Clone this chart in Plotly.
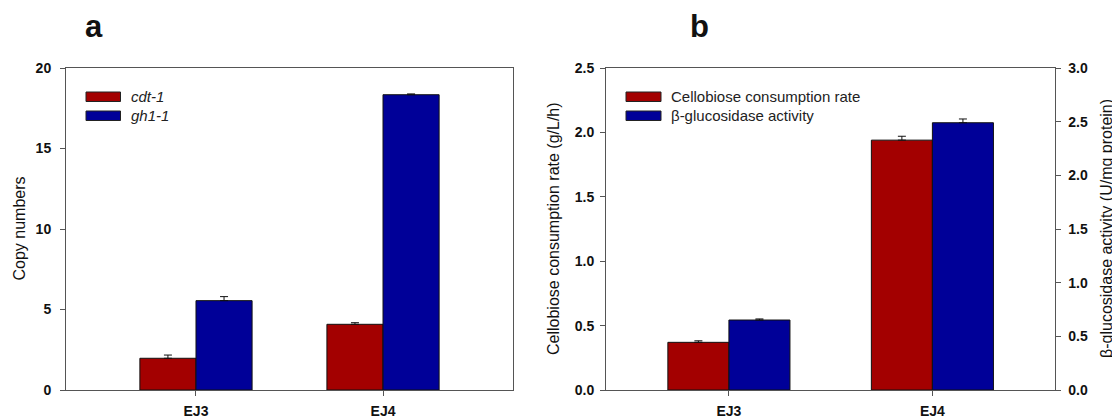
import plotly.graph_objects as go

# ---------------- data ----------------
strains = ["EJ3", "EJ4"]

# panel a: copy numbers
cdt1_copy = [1.97, 4.08]
cdt1_err = [0.2, 0.1]
gh11_copy = [5.55, 18.34]
gh11_err = [0.25, 0.05]

# panel b
cellobiose_rate = [0.37, 1.94]      # g/L/h (left axis)
cellobiose_err = [0.012, 0.03]
bglu_activity = [0.652, 2.49]       # U/mg protein (right axis)
bglu_err = [0.01, 0.035]

a_ticks = [0, 5, 10, 15, 20]
b_left_ticks = [0.0, 0.5, 1.0, 1.5, 2.0, 2.5]
b_right_ticks = [0.0, 0.5, 1.0, 1.5, 2.0, 2.5, 3.0]

RED = "#a30000"
BLUE = "#000098"
FONT = "Arial, Liberation Sans, sans-serif"
W, H = 1120, 418
OFF = 8  # page body margin


def px(x):
    return (x - OFF) / W


def py(y):
    return 1 - (y - OFF) / H


BW = 0.3


def bar(x, y, err, color, offset, xa, ya):
    return go.Bar(
        x=x, y=y, width=BW, offset=offset,
        marker=dict(color=color, line=dict(color="#111", width=1)),
        error_y=dict(type="data", symmetric=False, array=err,
                     arrayminus=[0] * len(err), color="#111",
                     thickness=1, width=4),
        xaxis=xa, yaxis=ya, showlegend=False,
    )


fig = go.Figure()
fig.add_trace(bar(strains, cdt1_copy, cdt1_err, RED, -BW, "x", "y"))
fig.add_trace(bar(strains, gh11_copy, gh11_err, BLUE, 0, "x", "y"))
fig.add_trace(bar(strains, cellobiose_rate, cellobiose_err, RED, -BW, "x2", "y2"))
fig.add_trace(bar(strains, bglu_activity, bglu_err, BLUE, 0, "x2", "y3"))

LINE = "#555"
tickfont = dict(family=FONT, size=14, color="#111", weight="bold")
ydom = [py(390), py(68)]

common_x = dict(type="category", showgrid=False, zeroline=False,
                showline=True, linecolor=LINE, linewidth=1, mirror=True,
                ticks="outside", ticklen=5, tickcolor=LINE,
                tickfont=tickfont, ticklabelstandoff=3, fixedrange=True,
                automargin=False)
common_y = dict(showgrid=False, zeroline=False, showline=True,
                linecolor=LINE, linewidth=1, ticks="outside", ticklen=5,
                tickcolor=LINE, tickfont=tickfont, automargin=False)

fig.update_layout(
    width=W, height=H, autosize=False,
    margin=dict(l=0, r=0, t=0, b=0, pad=0, autoexpand=False),
    paper_bgcolor="white", plot_bgcolor="white",
    font=dict(family=FONT, size=12, color="#111"),
    xaxis=dict(domain=[px(66), px(513)], range=[-0.695, 1.695],
               anchor="y", **common_x),
    yaxis=dict(domain=ydom, range=[0, 20], tickvals=a_ticks,
               anchor="x", mirror=True, ticklabelstandoff=6, **common_y),
    xaxis2=dict(domain=[px(606), px(1054.5)], range=[-0.604, 1.6],
                anchor="y2", **common_x),
    yaxis2=dict(domain=ydom, range=[0, 2.5], tickvals=b_left_ticks,
                tickformat=".1f", anchor="x2", ticklabelstandoff=3, **common_y),
    yaxis3=dict(range=[0, 3.0], tickvals=b_right_ticks, tickformat=".1f",
                overlaying="y2", side="right", anchor="x2",
                ticklabelstandoff=5, **common_y),
)

ann = []


def note(text, x, y, size=16, angle=0, xanchor="center", color="#111"):
    ann.append(dict(text=text, x=px(x), y=py(y), xref="paper", yref="paper",
                    xanchor=xanchor, yanchor="middle", textangle=angle,
                    showarrow=False, font=dict(size=size, family=FONT, color=color)))


# panel letters
note("<b>a</b>", 94, 26, size=31)
note("<b>b</b>", 699, 26, size=31)
# axis titles
ymid_px = (390 + 68) / 2
note("Copy numbers", 18.5, ymid_px, angle=-90)
note("Cellobiose consumption rate (g/L/h)", 553, ymid_px, angle=-90)
note("β-glucosidase activity (U/mg protein)", 1106, ymid_px, angle=-90)

shapes = []


def legend_item(x0, x1, y0, y1, color, label, tx):
    shapes.append(dict(type="rect", xref="paper", yref="paper",
                       x0=px(x0), x1=px(x1), y0=py(y1), y1=py(y0),
                       fillcolor=color, line=dict(color="#222", width=1)))
    note(label, tx, (y0 + y1) / 2, size=15, xanchor="left", color="#222")


legend_item(86, 120.5, 92, 101.5, RED, "<i>cdt-1</i>", 129)
legend_item(86, 120.5, 111, 120.5, BLUE, "<i>gh1-1</i>", 129)
legend_item(626, 661, 92, 101.5, RED, "Cellobiose consumption rate", 669)
legend_item(626, 661, 111, 120.5, BLUE, "β-glucosidase activity", 669)

fig.update_layout(annotations=ann, shapes=shapes)
fig.write_html("out.html")
